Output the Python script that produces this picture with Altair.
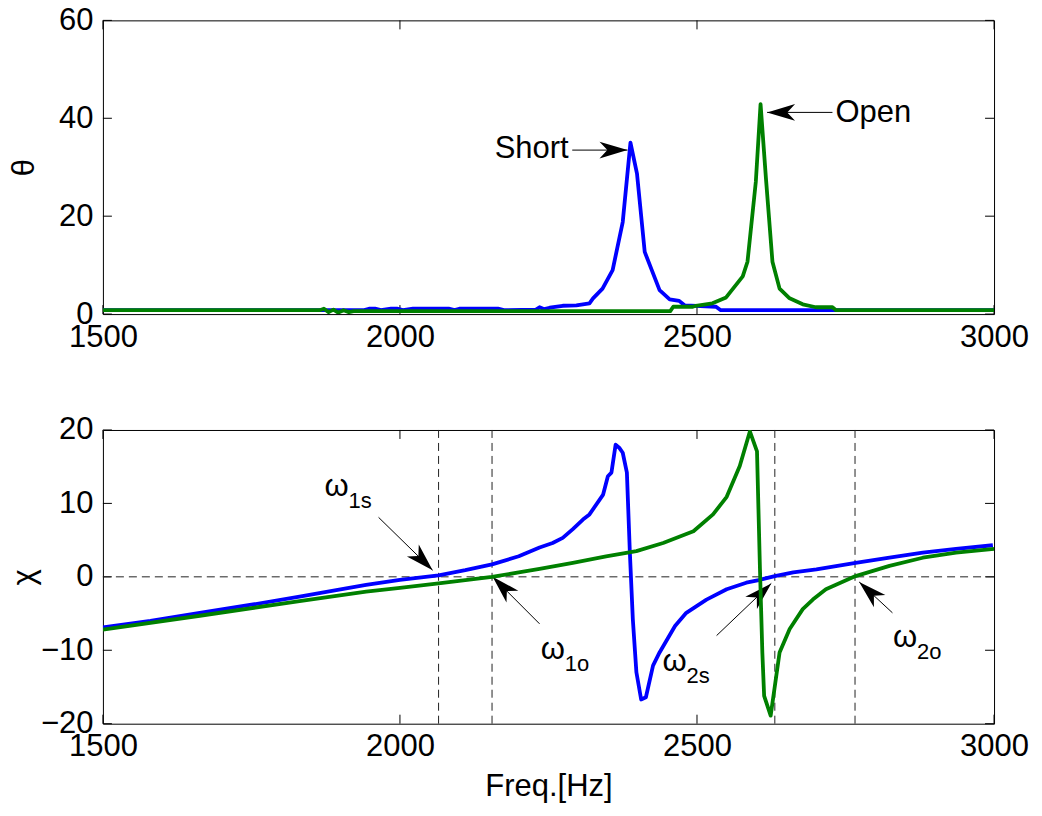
import altair as alt
import pandas as pd

# ---------------- data ----------------
freq_ticks = [1500, 2000, 2500, 3000]
theta_ticks = [0, 20, 40, 60]
chi_ticks = [-20, -10, 0, 10, 20]

# top panel (theta)
short_theta_f = [1500, 1940, 1948, 1958, 1968, 1985, 1995, 2005, 2022, 2082, 2092, 2100, 2165, 2175,
                 2229, 2235, 2243, 2252, 2274, 2297, 2319, 2325, 2341, 2358, 2375, 2388, 2399, 2412,
                 2437, 2454, 2470, 2479, 2532, 2540, 3000]
short_theta_v = [0.8, 0.8, 1.1, 1.1, 0.8, 1.1, 1.1, 0.8, 1.1, 1.1, 0.8, 1.1, 1.1, 0.8,
                 0.9, 1.4, 1.0, 1.3, 1.7, 1.8, 2.2, 3.2, 5.2, 9.0, 18.8, 35.0, 28.7, 12.7,
                 4.9, 3.0, 2.7, 1.8, 1.5, 0.8, 0.8]
open_theta_f = [1500, 1865, 1872, 1880, 1888, 1896, 1905, 1914, 1922, 1935, 2455, 2460, 2493, 2498,
                2526, 2549, 2577, 2585, 2599, 2607, 2616, 2627, 2639, 2655, 2678, 2700, 2728, 2734, 3000]
open_theta_v = [0.8, 0.8, 1.1, 0.4, 0.9, 0.3, 0.8, 0.4, 0.6, 0.6, 0.6, 1.5, 1.5, 1.7,
                2.2, 3.4, 7.7, 10.7, 27.0, 42.9, 27.8, 10.7, 5.2, 3.3, 2.0, 1.4, 1.4, 0.8, 0.8]

# bottom panel (chi)
short_chi_f = [1500, 1580, 1663, 1750, 1831, 1900, 1943, 2000, 2065, 2110, 2155, 2200, 2235, 2257,
               2274, 2291, 2308, 2319, 2342, 2350, 2356, 2363, 2369, 2375, 2382, 2387, 2392, 2398,
               2406, 2414, 2426, 2437, 2463, 2482, 2516, 2550, 2583, 2606, 2631, 2662, 2701, 2767,
               2824, 2880, 2936, 2998]
short_chi_v = [-6.9, -6.0, -4.9, -3.8, -2.7, -1.7, -1.1, -0.4, 0.2, 0.9, 1.7, 2.8, 4.0, 4.6,
               5.3, 6.5, 7.8, 8.5, 11.2, 13.7, 14.2, 18.0, 17.6, 16.9, 14.2, 3.3, -5.8, -13.0,
               -16.7, -16.4, -12.1, -10.3, -6.7, -4.9, -3.1, -1.7, -0.8, -0.4, 0.1, 0.6, 1.0, 1.9,
               2.6, 3.3, 3.8, 4.3]
open_chi_f = [1500, 1663, 1831, 1943, 2000, 2065, 2155, 2200, 2235, 2291, 2347, 2398, 2443, 2494,
              2527, 2550, 2572, 2589, 2601, 2606, 2610, 2613, 2624, 2631, 2639, 2656, 2678, 2695,
              2717, 2767, 2824, 2880, 2936, 3000]
open_chi_v = [-7.2, -5.3, -3.3, -2.0, -1.5, -0.9, 0.0, 0.6, 1.1, 1.9, 2.8, 3.5, 4.6, 6.2,
              8.5, 10.9, 15.1, 19.8, 17.1, 1.0, -10.3, -16.2, -18.9, -14.9, -10.3, -7.1, -4.4, -3.1,
              -1.7, 0.1, 1.5, 2.6, 3.3, 3.8]

# resonance / anti-resonance markers
omega_f = [2065, 2155, 2631, 2766]

# annotations, top panel
top_labels = ["Short", "Open"]
top_label_f = [2284, 2733]
top_label_v = [33.7, 41.0]
top_arrow_f0 = [2290, 2728]
top_arrow_v0 = [33.5, 41.2]
top_arrow_f1 = [2383, 2618]
top_arrow_v1 = [33.5, 41.2]
top_arrow_angle = [90, 270]

# annotations, bottom panel
om_main = ["ω", "ω", "ω", "ω"]
om_sub = ["1s", "1o", "2s", "2o"]
om_f = [1873, 2237, 2442, 2830]
om_v = [11.0, -11.2, -12.8, -9.5]
bot_arrow_f0 = [1964, 2235, 2533, 2829]
bot_arrow_v0 = [8.1, -6.4, -8.0, -4.9]
bot_arrow_f1 = [2055, 2156, 2625, 2773]
bot_arrow_v1 = [0.9, 0.0, -0.9, -0.7]
bot_arrow_angle = [135, 315, 46, 313]

# ---------------- style ----------------
W, H = 892, 294
FONT = "Liberation Sans"
FS = 31
BLUE = "#0000ff"
GREEN = "#008000"
ARROW = "M0,0L0.3,1L0,0.72L-0.3,1Z"
TICK = 9

xs = alt.Scale(domain=[1500, 3000], nice=False, zero=False)
ys_top = alt.Scale(domain=[0, 60], nice=False, zero=False)
ys_bot = alt.Scale(domain=[-20, 20], nice=False, zero=False)

XAX_TOP = alt.Axis(values=freq_ticks, format="d", title=None, labelPadding=8)
XAX_BOT = alt.Axis(values=freq_ticks, format="d", title="Freq.[Hz]", labelPadding=8, titlePadding=10)
YAX_TOP = alt.Axis(values=theta_ticks, format="d", title="θ", labelPadding=10,
                   minExtent=55, maxExtent=55, titlePadding=7)
YAX_BOT = alt.Axis(values=chi_ticks, format="d", title="χ", labelPadding=10,
                   minExtent=55, maxExtent=55, titlePadding=7)


def df(f, v):
    return pd.DataFrame({"f": f, "v": v})


def panel(xax, yax, ys, ticks_y, lines, extra):
    X = lambda fld="f": alt.X(f"{fld}:Q", scale=xs, axis=xax)
    Y = lambda fld="v": alt.Y(f"{fld}:Q", scale=ys, axis=yax)
    layers = []
    # inward ticks (box style)
    xt = pd.DataFrame({"t": freq_ticks})
    yt = pd.DataFrame({"t": ticks_y})
    layers.append(alt.Chart(xt).mark_rule(color="black", strokeWidth=1).encode(
        x=alt.X("t:Q", scale=xs, axis=xax), y=alt.value(H), y2=alt.value(H - TICK)))
    layers.append(alt.Chart(xt).mark_rule(color="black", strokeWidth=1).encode(
        x=alt.X("t:Q", scale=xs, axis=xax), y=alt.value(0), y2=alt.value(TICK)))
    layers.append(alt.Chart(yt).mark_rule(color="black", strokeWidth=1).encode(
        y=alt.Y("t:Q", scale=ys, axis=yax), x=alt.value(0), x2=alt.value(TICK)))
    layers.append(alt.Chart(yt).mark_rule(color="black", strokeWidth=1).encode(
        y=alt.Y("t:Q", scale=ys, axis=yax), x=alt.value(W - TICK), x2=alt.value(W)))
    layers += extra(X, Y)
    for d, col in lines:
        layers.append(alt.Chart(d).mark_line(color=col, strokeWidth=3.8, clip=True,
                                             strokeJoin="round").encode(x=X(), y=Y()))
    return layers


def arrows(X, Y, f0, v0, f1, v1, ang):
    d = pd.DataFrame({"f": f0, "v": v0, "f1": f1, "v1": v1, "a": ang})
    rule = alt.Chart(d).mark_rule(color="black", strokeWidth=1).encode(
        x=X(), y=Y(), x2="f1:Q", y2="v1:Q")
    head = alt.Chart(d).mark_point(shape=ARROW, filled=True, size=3136, color="black",
                                   opacity=1, strokeWidth=0).encode(
        x=X("f1"), y=Y("v1"), angle=alt.Angle("a:Q", scale=None))
    return [rule, head]


def top_extra(X, Y):
    d = pd.DataFrame({"f": top_label_f, "v": top_label_v, "t": top_labels})
    t1 = alt.Chart(d.iloc[[0]]).mark_text(align="right", baseline="middle", font=FONT,
                                         fontSize=FS, color="black").encode(x=X(), y=Y(), text="t:N")
    t2 = alt.Chart(d.iloc[[1]]).mark_text(align="left", baseline="middle", font=FONT,
                                         fontSize=FS, color="black").encode(x=X(), y=Y(), text="t:N")
    return [t1, t2] + arrows(X, Y, top_arrow_f0, top_arrow_v0, top_arrow_f1, top_arrow_v1,
                             top_arrow_angle)


def bot_extra(X, Y):
    vl = alt.Chart(pd.DataFrame({"f": omega_f})).mark_rule(
        color="#222222", strokeWidth=1, strokeDash=[8, 5]).encode(
        x=X(), y=alt.value(0), y2=alt.value(H))
    hl = alt.Chart(pd.DataFrame({"v": [0]})).mark_rule(
        color="#222222", strokeWidth=1, strokeDash=[8, 5]).encode(
        y=Y(), x=alt.value(0), x2=alt.value(W))
    d = pd.DataFrame({"f": om_f, "v": om_v, "m": om_main, "s": om_sub})
    tm = alt.Chart(d).mark_text(align="left", baseline="alphabetic", font=FONT, fontSize=FS,
                                color="black").encode(x=X(), y=Y(), text="m:N")
    ts = alt.Chart(d).mark_text(align="left", baseline="alphabetic", font=FONT, fontSize=22,
                                color="black", dx=24, dy=12).encode(x=X(), y=Y(), text="s:N")
    return [vl, hl, tm, ts] + arrows(X, Y, bot_arrow_f0, bot_arrow_v0, bot_arrow_f1, bot_arrow_v1,
                                     bot_arrow_angle)


top = alt.layer(*panel(XAX_TOP, YAX_TOP, ys_top, theta_ticks,
                       [(df(short_theta_f, short_theta_v), BLUE),
                        (df(open_theta_f, open_theta_v), GREEN)],
                       top_extra)).properties(width=W, height=H)

bottom = alt.layer(*panel(XAX_BOT, YAX_BOT, ys_bot, chi_ticks,
                          [(df(short_chi_f, short_chi_v), BLUE),
                           (df(open_chi_f, open_chi_v), GREEN)],
                          bot_extra)).properties(width=W, height=H)

chart = alt.vconcat(top, bottom, spacing=116, bounds="flush").properties(
    padding={"left": 0, "top": -5, "right": 5, "bottom": 0},
    background="white",
).configure_view(stroke="black", strokeWidth=1).configure_axis(
    labelFont=FONT, labelFontSize=FS, labelColor="black",
    titleFont=FONT, titleFontSize=FS, titleColor="black", titleFontWeight="normal",
    domain=False, ticks=False, grid=False,
    labelFlush=False, labelOverlap=False, labelBound=False,
)

chart.save("out.html", embed_options={"renderer": "svg", "actions": False})
